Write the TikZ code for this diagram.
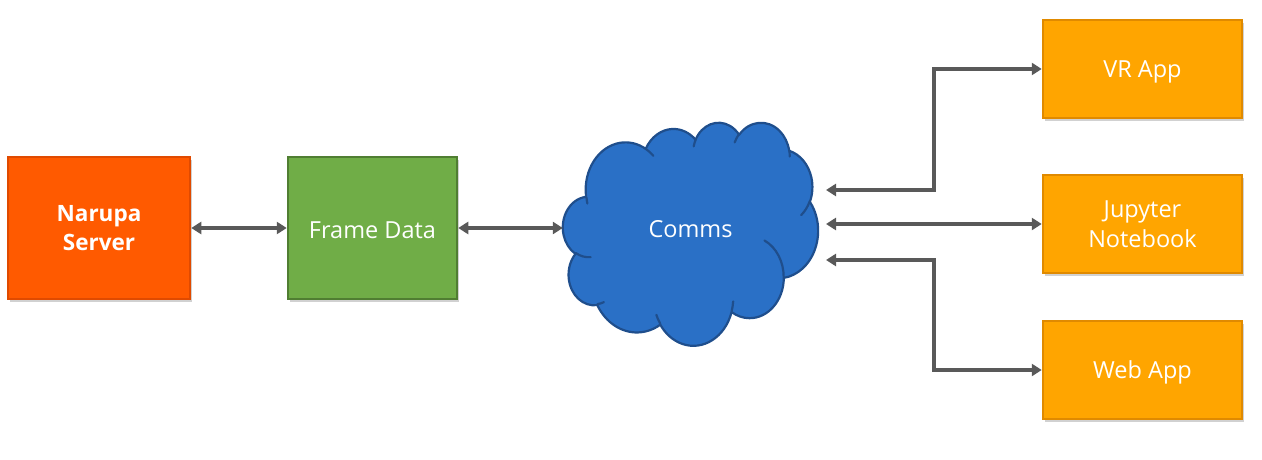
\documentclass[tikz,border=0pt]{standalone}
\usepackage{fontspec}
\setmainfont{Open Sans}
\usetikzlibrary{arrows.meta,shadows,calc}
\definecolor{nsfill}{HTML}{FF5A00}
\definecolor{nsdraw}{HTML}{E04A00}
\definecolor{fdfill}{HTML}{70AD47}
\definecolor{fddraw}{HTML}{507E32}
\definecolor{apfill}{HTML}{FFA500}
\definecolor{apdraw}{HTML}{E08A00}
\definecolor{clfill}{HTML}{2A70C6}
\definecolor{cldraw}{HTML}{1F4E8C}
\definecolor{arrgray}{HTML}{595959}
\newcommand\lowr[1]{\raisebox{-2.5pt}[\height][\depth]{#1}}
\begin{document}
\begin{tikzpicture}[x=1pt,y=-1pt,
  box/.style={draw, line width=2.5pt, text=white, align=center, inner sep=0pt,
    font=\fontsize{23.5}{30}\selectfont,
    drop shadow={shadow xshift=2pt,shadow yshift=-3pt,opacity=0.18,fill=black}},
  appbox/.style={box, fill=apfill, draw=apdraw, minimum width=199pt, minimum height=98pt},
  arr/.style={draw=arrgray, line width=3.5pt,
    {Triangle[length=10pt,width=12pt]}-{Triangle[length=10pt,width=12pt]}},
  cloudfill/.style={fill=clfill, draw=cldraw, line width=2.2pt, line join=round},
  cloudline/.style={draw=cldraw, line width=2.2pt, line cap=round},
  ooarc/.style n args={4}{insert path={arc[x radius=#1, y radius=#2,
    start angle={atan2(#1*sin(#3),#2*cos(#3))},
    delta angle={mod(atan2(#1*sin(#3+#4),#2*cos(#3+#4))-atan2(#1*sin(#3),#2*cos(#3))+720,360)}]}}
]
\useasboundingbox (0,0) rectangle (1262,460);

% cloud shape
\begin{scope}[shift={(563,122)}, x=0.05903pt, y=-0.05162pt]
\path[cloudfill] (390,1437)
  [ooarc={675.3}{919.0}{-190.4875}{123.7805}]
  [ooarc={533.3}{726.7}{-144.1024}{89.9452}]
  [ooarc={436.5}{594.5}{-145.8079}{99.7230}]
  [ooarc={485.7}{659.5}{-130.9861}{117.2417}]
  [ooarc={533.3}{727.3}{-78.7089}{109.0269}]
  [ooarc={677.5}{922.0}{-46.2673}{130.2690}]
  [ooarc={578.5}{786.7}{0.6250}{114.0333}]
  [ooarc={675.2}{921.5}{22.4516}{115.1726}]
  [ooarc={772.0}{1054.3}{66.2426}{75.7110}]
  [ooarc={436.0}{591.8}{-274.9421}{146.7356}]
  [ooarc={434.5}{594.5}{-246.8285}{152.5189}]
  -- cycle;
\path[cloudline]
  (469.3,2617.7) [ooarc={434.5}{594.5}{86.7420}{26.4295}]
  (692.8,3489.9) [ooarc={436.0}{591.8}{73.6105}{11.4475}]
  (1647.8,3909.0) [ooarc={675.2}{921.5}{137.6242}{14.0811}]
  (2882.7,3475.1) [ooarc={675.2}{921.5}{6.4533}{15.9984}]
  (3412.9,2295.4) [ooarc={578.5}{786.7}{-70.2924}{70.9174}]
  (4179.8,1535.4) [ooarc={533.3}{727.3}{30.3180}{27.7515}]
  (3832.4,542.6) [ooarc={485.7}{659.5}{-13.7443}{14.8589}]
  (2907.8,395.2) [ooarc={485.7}{659.5}{-149.1815}{18.1954}]
  (2214.1,472.0) [ooarc={436.5}{594.5}{-163.4943}{17.6864}]
  (1400.0,519.2) [ooarc={675.3}{919.0}{-66.7070}{12.3194}]
  (412.7,1578.9) [ooarc={675.3}{919.0}{162.0364}{9.6236}];
\end{scope}

\node[box, fill=nsfill, draw=nsdraw, minimum width=182pt, minimum height=142pt,
  font=\fontsize{22.5}{29}\selectfont\bfseries] (ns) at (99,228) {Narupa\\Server};
\node[box, fill=fdfill, draw=fddraw, minimum width=169pt, minimum height=142pt] (fd) at (372.5,228) {\lowr{Frame Data}};
\node[text=white, font=\fontsize{23.5}{30}\selectfont, minimum width=255pt, minimum height=223pt, inner sep=0pt] (cloud) at (690.5,229) {Comms};

\node[appbox] (vr) at (1142.5,69) {\lowr{VR App}};
\node[appbox] (jn) at (1142.5,224) {Jupyter\\Notebook};
\node[appbox] (wa) at (1142.5,370) {\lowr{Web App}};

\coordinate (c1) at (826,190);
\coordinate (c2) at (826,224);
\coordinate (c3) at (826,260);
\coordinate (bx) at (934,0);

\draw[arr] (ns.east) -- (fd.west);
\draw[arr] (fd.east) -- (fd.east -| cloud.west);
\draw[arr] (c1) -- (bx |- c1) |- (vr.west);
\draw[arr] (c2) -- (jn.west);
\draw[arr] (c3) -- (bx |- c3) |- (wa.west);
\end{tikzpicture}
\end{document}
